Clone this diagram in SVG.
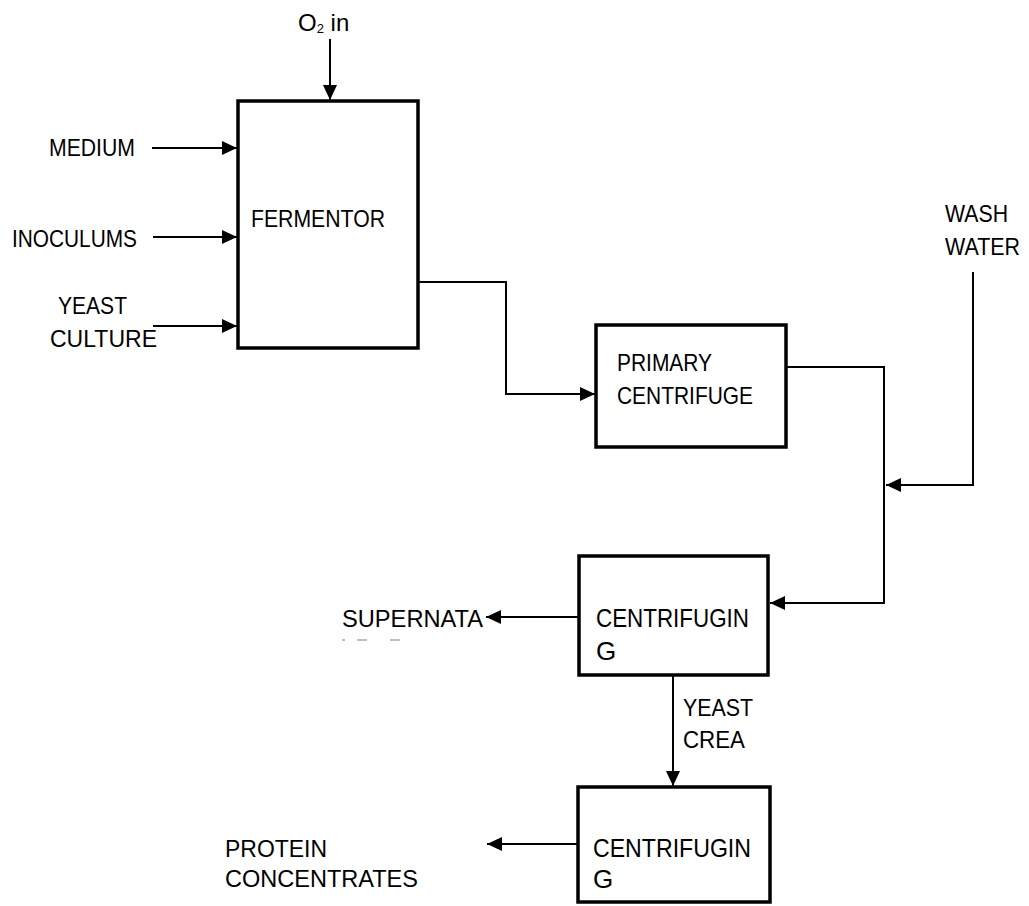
<svg xmlns="http://www.w3.org/2000/svg" width="1029" height="906" viewBox="0 0 1029 906">
<style>
.box{fill:#fff;stroke:#000;stroke-width:3.5}
.ln{fill:none;stroke:#000;stroke-width:2;marker-end:url(#ah)}
.pl{fill:none;stroke:#000;stroke-width:2}
text{font-family:"Liberation Sans",Arial,sans-serif;font-size:24px;fill:#000}
.bx{font-size:26px}
</style>
<defs>
<marker id="ah" markerUnits="userSpaceOnUse" markerWidth="16" markerHeight="14" refX="15" refY="7" orient="auto">
<path d="M0,0 L15,7 L0,14 Z" fill="#000"/>
</marker>
</defs>
<rect width="1029" height="906" fill="#fff"/>
<g id="connectors">
<line class="ln" x1="330" y1="39" x2="330" y2="100"/>
<line class="ln" x1="152" y1="148" x2="237" y2="148"/>
<line class="ln" x1="153" y1="237" x2="237" y2="237"/>
<line class="ln" x1="153" y1="326" x2="237" y2="326"/>
<polyline class="ln" points="419,282 506,282 506,394 595,394"/>
<polyline class="ln" points="787,367 884,367 884,603 770,603"/>
<polyline class="ln" points="973,272 973,485 886,485"/>
<line class="ln" x1="579" y1="617" x2="486" y2="617"/>
<line class="ln" x1="673" y1="676" x2="673" y2="786"/>
<line class="ln" x1="578" y1="844" x2="487" y2="844"/>
</g>
<g id="fermentor">
<rect class="box" x="238" y="101" width="180" height="247"/>
<text x="251" y="227" textLength="134" lengthAdjust="spacingAndGlyphs">FERMENTOR</text>
</g>
<g id="primary-centrifuge">
<rect class="box" x="596" y="325" width="190" height="122"/>
<text x="617" y="371" textLength="95" lengthAdjust="spacingAndGlyphs">PRIMARY</text>
<text x="617" y="404" textLength="136" lengthAdjust="spacingAndGlyphs">CENTRIFUGE</text>
</g>
<g id="centrifuging-1">
<rect class="box" x="579" y="556" width="189" height="119"/>
<text class="bx" x="596" y="627" textLength="153" lengthAdjust="spacingAndGlyphs">CENTRIFUGIN</text>
<text class="bx" x="596" y="660">G</text>
</g>
<g id="centrifuging-2">
<rect class="box" x="578" y="787" width="192" height="115"/>
<text class="bx" x="593" y="857" textLength="158" lengthAdjust="spacingAndGlyphs">CENTRIFUGIN</text>
<text class="bx" x="593" y="888">G</text>
</g>
<g id="o2-in">
<text x="298" y="31" font-size="20">O<tspan font-size="13" dy="2">2</tspan><tspan dy="-2"> in</tspan></text>
</g>
<g id="medium">
<text x="49" y="156" textLength="86" lengthAdjust="spacingAndGlyphs">MEDIUM</text>
</g>
<g id="inoculums">
<text x="12" y="247" textLength="125" lengthAdjust="spacingAndGlyphs">INOCULUMS</text>
</g>
<g id="yeast-culture">
<text x="58" y="314" textLength="69" lengthAdjust="spacingAndGlyphs">YEAST</text>
<text x="50" y="347" textLength="107" lengthAdjust="spacingAndGlyphs">CULTURE</text>
</g>
<g id="wash-water">
<text x="945" y="222" textLength="63" lengthAdjust="spacingAndGlyphs">WASH</text>
<text x="945" y="255" textLength="75" lengthAdjust="spacingAndGlyphs">WATER</text>
</g>
<g id="supernata">
<text x="342" y="627" textLength="141" lengthAdjust="spacingAndGlyphs">SUPERNATA</text>
<g stroke="#aaa" stroke-width="1.5">
<line x1="342" y1="640" x2="345" y2="640"/>
<line x1="357" y1="640" x2="367" y2="640"/>
<line x1="390" y1="640" x2="400" y2="640"/>
</g>
</g>
<g id="yeast-crea">
<text x="683" y="716" textLength="70" lengthAdjust="spacingAndGlyphs">YEAST</text>
<text x="683" y="748" textLength="62" lengthAdjust="spacingAndGlyphs">CREA</text>
</g>
<g id="protein-concentrates">
<text x="225" y="857" textLength="102" lengthAdjust="spacingAndGlyphs">PROTEIN</text>
<text x="225" y="887" textLength="193" lengthAdjust="spacingAndGlyphs">CONCENTRATES</text>
</g>
</svg>
